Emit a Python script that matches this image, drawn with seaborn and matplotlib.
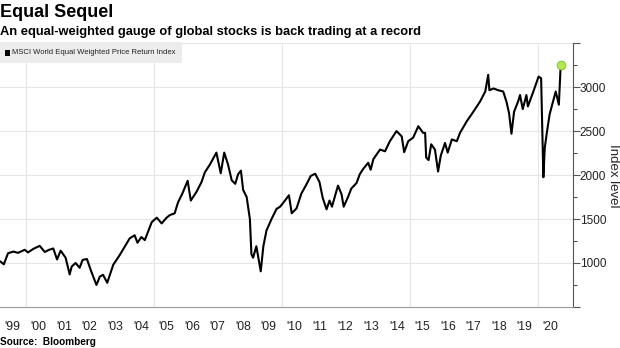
import matplotlib
matplotlib.use("Agg")
import matplotlib.pyplot as plt
import matplotlib.dates as mdates
from matplotlib.patches import Rectangle
import seaborn as sns
import pandas as pd

dates = [
    "1999-01-01", "1999-02-25", "1999-04-25", "1999-07-10", "1999-09-15", "1999-12-20",
    "2000-02-05", "2000-04-20", "2000-07-20", "2000-10-01", "2000-12-01",
    "2001-01-30", "2001-03-25", "2001-05-15", "2001-07-25", "2001-09-21", "2001-10-20", "2001-12-15",
    "2002-02-10", "2002-03-25", "2002-05-25", "2002-07-25", "2002-10-08", "2002-11-25",
    "2003-01-10", "2003-03-11", "2003-06-05", "2003-09-05", "2003-11-15",
    "2004-01-25", "2004-04-05", "2004-05-15", "2004-07-10", "2004-08-28", "2004-12-05",
    "2005-02-15", "2005-04-25", "2005-07-05", "2005-08-20", "2005-10-28", "2005-12-15",
    "2006-02-15", "2006-05-01", "2006-06-15", "2006-09-05", "2006-11-15",
    "2007-01-01", "2007-03-15", "2007-06-15", "2007-08-16", "2007-10-05", "2007-11-28",
    "2008-01-20", "2008-03-10", "2008-04-20", "2008-05-30", "2008-07-01", "2008-08-20",
    "2008-10-05", "2008-10-27", "2008-11-20",
    "2009-01-05", "2009-03-09", "2009-04-15", "2009-05-30", "2009-08-10", "2009-10-20", "2009-12-10",
    "2010-01-15", "2010-04-15", "2010-05-25", "2010-08-01", "2010-10-10", "2010-12-25",
    "2011-02-20", "2011-04-25", "2011-06-25", "2011-08-10", "2011-10-04", "2011-11-15", "2011-12-20",
    "2012-03-15", "2012-05-05", "2012-06-04", "2012-08-05", "2012-09-20", "2012-12-05",
    "2013-01-20", "2013-03-10", "2013-05-20", "2013-06-24", "2013-08-01", "2013-11-05",
    "2014-01-15", "2014-03-25", "2014-06-28", "2014-09-10", "2014-10-15", "2014-12-12",
    "2015-02-20", "2015-05-05", "2015-07-12", "2015-08-10", "2015-08-25", "2015-09-28",
    "2015-11-05", "2015-12-28",
    "2016-02-11", "2016-03-20", "2016-05-20", "2016-06-27", "2016-08-25", "2016-11-04", "2016-12-20",
    "2017-03-25", "2017-06-28", "2017-10-01", "2017-12-15",
    "2018-01-26", "2018-02-12", "2018-04-12", "2018-06-15", "2018-08-28", "2018-10-15",
    "2018-11-20", "2018-12-24",
    "2019-01-30", "2019-03-30", "2019-04-25", "2019-06-03", "2019-07-25", "2019-08-15", "2019-11-01",
    "2020-01-15", "2020-02-20", "2020-03-23", "2020-04-12", "2020-05-15", "2020-06-20",
    "2020-08-10", "2020-09-15", "2020-10-30", "2020-11-25",
]
index_level = [
    1020, 985, 1110, 1130, 1115, 1150,
    1120, 1160, 1195, 1125, 1150,
    1165, 1040, 1140, 1060, 870, 960, 1000,
    945, 1035, 1045, 905, 750, 845,
    865, 775, 980, 1090, 1185,
    1280, 1315, 1230, 1295, 1260, 1465,
    1515, 1450, 1515, 1545, 1565, 1690,
    1790, 1935, 1710, 1810, 1920,
    2030, 2120, 2255, 2020, 2255, 2120,
    1940, 1900, 2010, 2050, 1830, 1750,
    1500, 1100, 1060,
    1190, 905, 1190, 1370, 1500, 1615, 1640,
    1675, 1770, 1565, 1620, 1790, 1900,
    1990, 2015, 1920, 1740, 1610, 1710, 1640,
    1880, 1780, 1640, 1750, 1845, 1910,
    2010, 2070, 2140, 2060, 2180, 2290,
    2270, 2385, 2500, 2440, 2260, 2385,
    2425, 2555, 2480, 2480, 2200, 2170,
    2350, 2290,
    2040, 2220, 2365, 2255, 2405, 2385, 2480,
    2610, 2720, 2835, 2950,
    3140, 2965, 2985, 2965, 2950, 2830,
    2700, 2470,
    2720, 2840, 2910, 2750, 2910, 2780, 2950,
    3120, 3100, 1975, 2310, 2500, 2690,
    2840, 2950, 2800, 3250,
]
year_labels = ["'99", "'00", "'01", "'02", "'03", "'04", "'05", "'06", "'07", "'08", "'09",
               "'10", "'11", "'12", "'13", "'14", "'15", "'16", "'17", "'18", "'19", "'20"]
y_major = [500, 1000, 1500, 2000, 2500, 3000, 3500]
y_labels = ["", "1000", "1500", "2000", "2500", "3000", ""]
series_name = "MSCI World Equal Weighted Price Return Index"

df = pd.DataFrame({"date": pd.to_datetime(dates), "value": index_level})

sns.set_theme(style="white")
plt.rcParams["font.family"] = ["Liberation Sans", "DejaVu Sans"]

fig = plt.figure(figsize=(6.2, 3.48), dpi=100)
ax = fig.add_axes([0.0, 0.118, 0.924, 0.758])

sns.lineplot(data=df, x="date", y="value", color="black", lw=1.5, ax=ax, legend=False)
ax.scatter([df["date"].iloc[-1]], [df["value"].iloc[-1]], s=38, color="#b5e655",
           edgecolor="#8cc63f", linewidth=0.8, zorder=5)

ax.set_xlim(pd.Timestamp("1999-01-01"), pd.Timestamp("2021-05-18"))
ax.set_ylim(500, 3500)

# x axis: year separators (major) and mid-year labels (minor)
years = list(range(1999, 1999 + len(year_labels) + 1))
ax.set_xticks([mdates.date2num(pd.Timestamp(f"{y}-01-01")) for y in years])
ax.set_xticklabels([""] * len(years))
ax.set_xticks([mdates.date2num(pd.Timestamp(f"{y}-07-02")) for y in years[:-1]], minor=True)
ax.set_xticklabels(year_labels, minor=True)
ax.tick_params(axis="x", which="major", length=26, width=0.8, color="#cfcfcf", direction="out")
ax.tick_params(axis="x", which="minor", length=0, pad=10, labelsize=8.8, labelcolor="#222222")
for y in [2000, 2005, 2010, 2015, 2020]:
    ax.axvline(pd.Timestamp(f"{y}-01-01"), color="#e6e6e6", lw=0.8, zorder=0)

# y axis on the right
ax.yaxis.tick_right()
ax.set_yticks(y_major)
ax.set_yticklabels(y_labels)
ax.set_yticks([750, 1250, 1750, 2250, 2750, 3250], minor=True)
ax.tick_params(axis="y", which="major", length=5, width=0.8, color="#555555", pad=0,
               labelsize=8.5, labelcolor="#222222", right=True, left=False)
ax.tick_params(axis="y", which="minor", length=3, width=0.8, color="#555555", right=True, left=False)
ax.yaxis.grid(True, which="major", color="#e6e6e6", lw=0.8)
ax.set_axisbelow(True)
ax.set_ylabel("")
ax.set_xlabel("")
fig.text(613 / 620, 1 - 176 / 348, "Index level", rotation=270, fontsize=9.5,
         color="#222222", ha="center", va="center")

for s in ["top", "left"]:
    ax.spines[s].set_visible(False)
ax.spines["bottom"].set_color("#9a9a9a")
ax.spines["bottom"].set_linewidth(0.8)
ax.spines["right"].set_color("#555555")
ax.spines["right"].set_linewidth(0.8)

# titles
fig.text(0.0, 0.988, "Equal Sequel", fontsize=13, fontweight="bold", va="top", ha="left",
         color="black")
fig.text(0.0, 0.925, "An equal-weighted gauge of global stocks is back trading at a record",
         fontsize=9.3, fontweight="bold", va="top", ha="left", color="black")

# legend box
fig.add_artist(Rectangle((0.0, 1 - 62.7 / 348), 181.7 / 620, 20.4 / 348,
                         transform=fig.transFigure, facecolor="#ececec", edgecolor="none",
                         zorder=3))
fig.add_artist(Rectangle((5 / 620, 1 - 56 / 348), 5 / 620, 6 / 348,
                         transform=fig.transFigure, facecolor="black", edgecolor="none",
                         zorder=4))
fig.text(12 / 620, 1 - 52.5 / 348, series_name, fontsize=5.5, va="center", ha="left",
         color="#222222", zorder=4)

fig.text(0.0, 0.004, "Source:  Bloomberg", fontsize=7.2, fontweight="bold", va="bottom",
         ha="left", color="black")

fig.savefig("out.png", dpi=100)
